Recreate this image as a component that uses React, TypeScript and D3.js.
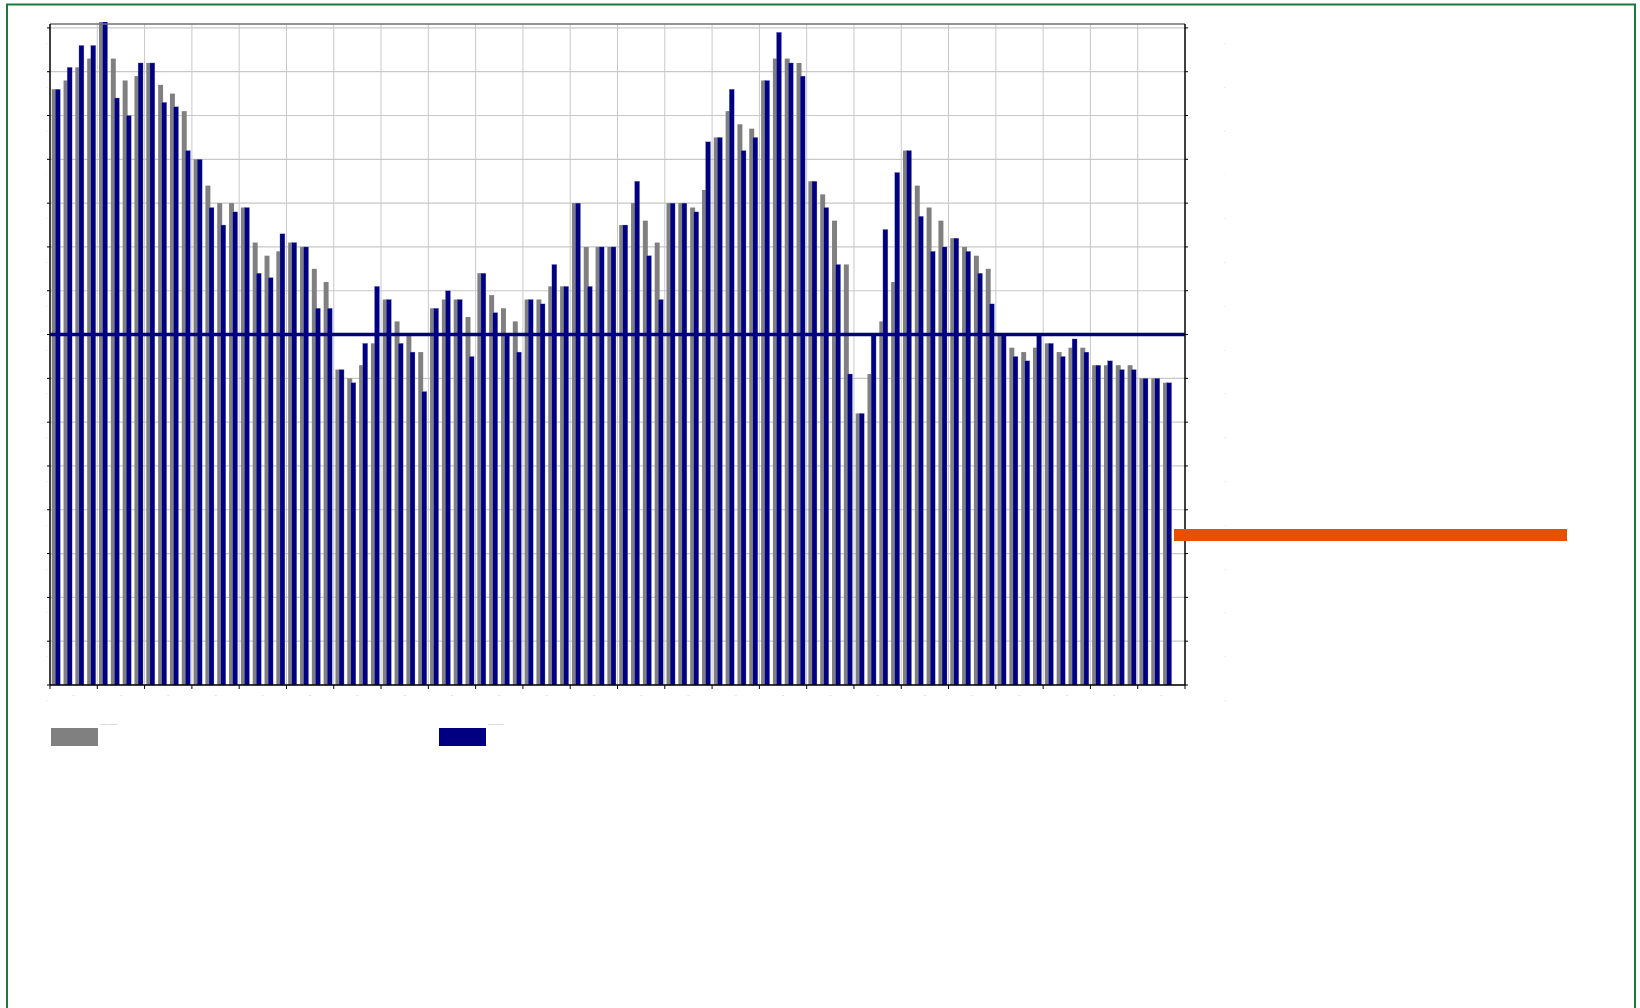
import * as d3 from "d3";
import React from "react";

// year labels under each block of four quarters
const years = [
  "90", "91", "92", "93", "94", "95", "96", "97", "98", "99", "00", "01",
  "02", "03", "04", "05", "06", "07", "08", "09", "10", "11", "12", "13",
];
const quarters = ["Q1", "Q2", "Q3", "Q4"];

// grey series
const previous = [
  5.6, 5.8, 6.1, 6.3, 7.2, 6.3, 5.8, 5.9, 6.2, 5.7, 5.5, 5.1,
  4.0, 3.4, 3.0, 3.0, 2.9, 2.1, 1.8, 1.9, 2.1, 2.0, 1.5, 1.2,
  -0.8, -1.0, -0.7, -0.2, 0.8, 0.3, 0.0, -0.4, 0.6, 0.8, 0.8, 0.4,
  1.4, 0.9, 0.6, 0.3, 0.8, 0.8, 1.1, 1.1, 3.0, 2.0, 2.0, 2.0,
  2.5, 3.0, 2.6, 2.1, 3.0, 3.0, 2.9, 3.3, 4.5, 5.1, 4.8, 4.7,
  5.8, 6.3, 6.3, 6.2, 3.5, 3.2, 2.6, 1.6, -1.8, -0.9, 0.3, 1.2,
  4.2, 3.4, 2.9, 2.6, 2.2, 2.0, 1.8, 1.5, 0.0, -0.3, -0.4, -0.3,
  -0.2, -0.4, -0.3, -0.3, -0.7, -0.7, -0.7, -0.7, -1.0, -1.0, -1.1,
];

// navy series
const current = [
  5.6, 6.1, 6.6, 6.6, 7.3, 5.4, 5.0, 6.2, 6.2, 5.3, 5.2, 4.2,
  4.0, 2.9, 2.5, 2.8, 2.9, 1.4, 1.3, 2.3, 2.1, 2.0, 0.6, 0.6,
  -0.8, -1.1, -0.2, 1.1, 0.8, -0.2, -0.4, -1.3, 0.6, 1.0, 0.8, -0.5,
  1.4, 0.5, 0.0, -0.4, 0.8, 0.7, 1.6, 1.1, 3.0, 1.1, 2.0, 2.0,
  2.5, 3.5, 1.8, 0.8, 3.0, 3.0, 2.8, 4.4, 4.5, 5.6, 4.2, 4.5,
  5.8, 6.9, 6.2, 5.9, 3.5, 2.9, 1.6, -0.9, -1.8, 0.0, 2.4, 3.7,
  4.2, 2.7, 1.9, 2.0, 2.2, 1.9, 1.4, 0.7, 0.0, -0.5, -0.6, 0.0,
  -0.2, -0.5, -0.1, -0.4, -0.7, -0.6, -0.8, -0.8, -1.0, -1.0, -1.1,
];

const yTicks = [-8, -7, -6, -5, -4, -3, -2, -1, 0, 1, 2, 3, 4, 5, 6, 7];
const seriesNames = ["Previous estimate", "Current estimate"];

const categories = years.flatMap((y) => quarters.map((q) => `${q} ${y}`));

const App = () => {
  const left = 50;
  const right = 1185;
  const frameTop = 24;
  const bottom = 685;

  const x = d3.scaleBand().domain(categories).range([left, right]).padding(0);
  const y = d3.scaleLinear().domain([-8, 7]).range([bottom, 27.9]);
  const bw = x.bandwidth();
  const barW = bw * 0.42;

  const yearX = d3
    .scaleBand()
    .domain(years)
    .range([left, right])
    .padding(0);

  const grid = "#c8c8c8";
  const labelFill = "#b8b8b8";

  return (
    <svg
      width={1640}
      height={1008}
      style={{ position: "absolute", left: 0, top: 0, background: "#fff" }}
    >
      <defs>
        <clipPath id="plot">
          <rect x={left} y={frameTop - 2} width={right - left} height={bottom - frameTop + 2} />
        </clipPath>
      </defs>

      {/* outer border */}
      <rect x={7} y={4.5} width={1628} height={1020} fill="none" stroke="#1d7a3c" strokeWidth={2} />

      {/* horizontal gridlines */}
      {yTicks.map((t) => (
        <line key={"h" + t} x1={left} x2={right} y1={y(t)} y2={y(t)} stroke={grid} strokeWidth={1.2} />
      ))}
      {/* vertical gridlines */}
      {years.map((yr, i) =>
        i === 0 ? null : (
          <line
            key={"v" + yr}
            x1={yearX(yr)}
            x2={yearX(yr)}
            y1={frameTop}
            y2={bottom}
            stroke={grid}
            strokeWidth={1}
          />
        )
      )}

      {/* bars, drawn up from the bottom of the axis */}
      <g clipPath="url(#plot)">
        {previous.map((v, i) => (
          <rect
            key={"p" + i}
            x={(x(categories[i]) as number) + bw * 0.145}
            y={y(v)}
            width={barW}
            height={bottom - y(v)}
            fill="#808080"
          />
        ))}
        {current.map((v, i) => (
          <rect
            key={"c" + i}
            x={(x(categories[i]) as number) + bw * 0.45}
            y={y(v)}
            width={barW}
            height={bottom - y(v)}
            fill="#000080"
            stroke="#8a8ad0"
            strokeWidth={0.3}
          />
        ))}
      </g>

      {/* zero line */}
      <line x1={left} x2={right} y1={y(0)} y2={y(0)} stroke="#000080" strokeWidth={3.5} />

      {/* frame */}
      <line x1={left} x2={right} y1={frameTop} y2={frameTop} stroke="#707070" strokeWidth={1.5} />
      <line x1={left} x2={left} y1={frameTop} y2={bottom} stroke="#000" strokeWidth={1.5} />
      <line x1={right} x2={right} y1={frameTop} y2={bottom} stroke="#000" strokeWidth={1.5} />
      <line x1={left} x2={right} y1={bottom} y2={bottom} stroke="#000" strokeWidth={1.5} />

      {/* y ticks and labels, both sides */}
      {yTicks.map((t) => (
        <g key={"yt" + t}>
          <line x1={left - 3} x2={left} y1={y(t)} y2={y(t)} stroke="#000" />
          <line x1={right} x2={right + 3} y1={y(t)} y2={y(t)} stroke="#000" />
          <text x={47} y={y(t) + 16} fontSize={2} textAnchor="end" fill={labelFill} fontFamily="Arial">
            {t}
          </text>
          <text x={1224} y={y(t) + 16} fontSize={2} fill={labelFill} fontFamily="Arial">
            {t}
          </text>
        </g>
      ))}

      {/* x ticks and year labels */}
      {years.map((yr) => (
        <g key={"xt" + yr}>
          <line x1={yearX(yr)} x2={yearX(yr)} y1={bottom} y2={bottom + 4} stroke="#000" />
          <text
            x={(yearX(yr) as number) + yearX.bandwidth() / 2}
            y={696}
            fontSize={2}
            textAnchor="middle"
            fill={labelFill}
            fontFamily="Arial"
          >
            {yr}
          </text>
        </g>
      ))}
      <line x1={right} x2={right} y1={bottom} y2={bottom + 4} stroke="#000" />

      {/* legend */}
      <rect x={51} y={728} width={47} height={18} fill="#808080" />
      <text x={100} y={725} fontSize={2.2} fill="#999" fontFamily="Arial">
        {seriesNames[0]}
      </text>
      <rect x={439} y={728} width={47} height={18} fill="#000080" />
      <text x={488} y={725} fontSize={2.2} fill="#999" fontFamily="Arial">
        {seriesNames[1]}
      </text>

      {/* orange marker */}
      <rect x={1174} y={529} width={393} height={12} fill="#e84f00" />
    </svg>
  );
};

export default App;
